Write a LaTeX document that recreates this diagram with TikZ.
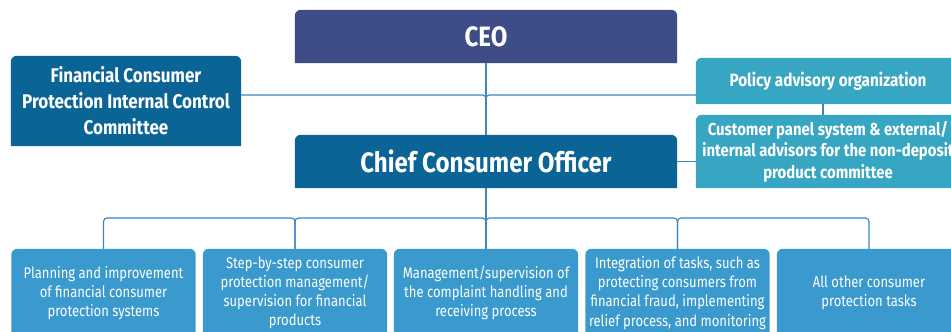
\documentclass[tikz,border=0pt]{standalone}
\usepackage{fontspec}
\setmainfont{Fira Sans}[FakeStretch=0.84]
\newfontfamily\topf{Fira Sans}[FakeStretch=0.86]
\usetikzlibrary{backgrounds,calc}
\definecolor{ceoc}{HTML}{3E4C87}
\definecolor{darkc}{HTML}{0A6496}
\definecolor{tealc}{HTML}{37A6C3}
\definecolor{taskc}{HTML}{3A9ACD}
\definecolor{linec}{HTML}{3F85BF}
\tikzset{
  boxn/.style={inner sep=0pt, align=center, text=white, anchor=center},
  conn/.style={draw=linec, line width=1.2pt, rounded corners=3.5pt},
}
\newcommand{\tbfill}[2]{%
  \begin{pgfonlayer}{background}
  \fill[#2, rounded corners=6pt] (#1.south west) -- (#1.north west) -- (#1.north east) [sharp corners] -- (#1.south east) -- cycle;
  \end{pgfonlayer}}
\begin{document}
\begin{tikzpicture}[x=1pt,y=-1pt]
\useasboundingbox (0,0) rectangle (951,332);
\clip (0,0) rectangle (951,332);
% top
\node[boxn, minimum width=382pt, minimum height=53pt, font=\topf\bfseries\fontsize{28}{30}\selectfont] (ceo) at (486,36.5) {CEO};
\tbfill{ceo}{ceoc}
\node[boxn, minimum width=382pt, minimum height=53pt, font=\topf\bfseries\fontsize{28}{30}\selectfont] (cco) at (486,161.5) {Chief Consumer Officer};
\tbfill{cco}{darkc}
\node[boxn, minimum width=230pt, minimum height=90pt, font=\topf\bfseries\fontsize{19.8}{26}\selectfont] (fin) at (126,101) {Financial Consumer\\Protection Internal Control\\Committee};
\tbfill{fin}{darkc}
\node[boxn, minimum width=264pt, minimum height=46pt, font=\topf\bfseries\fontsize{17.8}{21.5}\selectfont] (pol) at (828,81) {Policy advisory organization};
\tbfill{pol}{tealc}
\node[boxn, minimum width=264pt, minimum height=73pt, font=\topf\bfseries\fontsize{17.3}{21.5}\selectfont] (cust) at (828,151.5) {Customer panel system \& external/\\internal advisors for the non-deposit\\product committee};
\tbfill{cust}{tealc}
% bottom
\tikzset{taskn/.style={boxn, minimum width=184pt, minimum height=88pt, font=\fontsize{15.5}{19.2}\selectfont}}
\node[taskn] (b1) at (103.5,293) {Planning and improvement\\of financial consumer\\protection systems};
\tbfill{b1}{taskc}
\node[taskn] (b2) at (295,293) {Step-by-step consumer\\protection management/\\supervision for financial\\products};
\tbfill{b2}{taskc}
\node[taskn] (b3) at (486,293) {Management/supervision of\\the complaint handling and\\receiving process};
\tbfill{b3}{taskc}
\node[taskn] (b4) at (677.5,293) {Integration of tasks, such as\\protecting consumers from\\financial fraud, implementing\\relief process, and monitoring};
\tbfill{b4}{taskc}
\node[taskn] (b5) at (869,293) {All other consumer\\protection tasks};
\tbfill{b5}{taskc}
% connectors
\coordinate (jt) at (486,95);
\coordinate (bj) at (486,218);
\draw[conn] (ceo.south) -- (cco.north);
\draw[conn] (fin.east |- jt) -| (cco.north);
\draw[conn] (pol.west |- jt) -| (cco.north);
\draw[conn] ($(pol.south)+(-5,0)$) -- ($(cust.north)+(-5,0)$);
\draw[conn] (cco.east) -- (cco.east -| cust.west);
\draw[conn] (cco.south) -- (b3.north);
\draw[conn] (b3.north) |- (b2.north |- bj) -- (b2.north);
\draw[conn] (b2.north) |- (b1.north |- bj) -- (b1.north);
\draw[conn] (b3.north) |- (b4.north |- bj) -- (b4.north);
\draw[conn] (b4.north) |- (b5.north |- bj) -- (b5.north);
\end{tikzpicture}
\end{document}
